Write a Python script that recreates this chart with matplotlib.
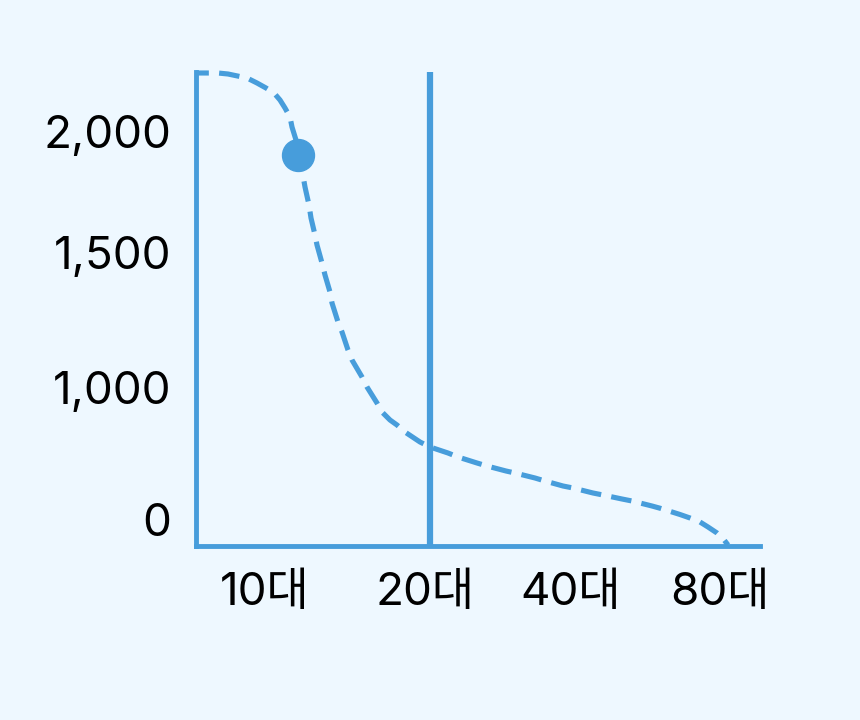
import matplotlib
matplotlib.use("Agg")
import matplotlib.pyplot as plt

# 값은 그림에서 읽은 것 (축 단위: 가로 0~564, 세로 0~474)
x_labels = ["10대", "20대", "40대", "80대"]
x_label_pos = [69, 229, 375, 524]

y_labels = ["0", "1,000", "1,500", "2,000"]
y_label_pos = [26, 159, 294, 414]

curve_x = [0, 22, 32, 51, 61, 70, 78, 84, 89, 94, 96, 100, 102, 106, 109,
           113, 115, 119, 121, 126, 129, 134, 136, 142, 146, 152, 156, 166,
           171, 181, 186, 194, 201, 209, 224, 234, 252, 262, 281, 291, 310,
           319, 339, 349, 367, 377, 397, 407, 426, 436, 456, 465, 484, 494,
           504, 512, 521, 527, 532]
curve_y = [473, 473, 472, 468, 463, 458, 453, 446, 438, 429, 419, 406, 391,
           376, 359, 341, 328, 311, 301, 283, 271, 254, 243, 224, 214, 196,
           186, 169, 159, 143, 134, 126, 121, 114, 104, 99, 93, 89, 83, 80,
           75, 73, 68, 65, 60, 58, 53, 51, 47, 45, 40, 37.5, 31.5, 28, 24,
           19, 13, 7.5, 1]

point_x = [102]
point_y = [391]

marker_line_x = 234

bg = "#eef8ff"
blue = "#479ddb"

plt.rcParams['font.family'] = ['Inter', 'Noto Sans CJK KR', 'DejaVu Sans']

fig = plt.figure(figsize=(8.6, 7.2), dpi=100, facecolor=bg)
ax = fig.add_axes([196 / 860, 174 / 720, 564 / 860, 474 / 720])
ax.set_facecolor(bg)

ax.plot(curve_x, curve_y, color=blue, lw=3.7, linestyle=(1.5, (4.0, 2.0)),
        solid_capstyle="butt", clip_on=False)
ax.axvline(marker_line_x, color=blue, lw=4.5)
ax.plot(point_x, point_y, "o", color=blue, markersize=23, clip_on=False)

ax.set_xlim(0, 564)
ax.set_ylim(0, 474)
ax.set_xticks(x_label_pos)
ax.set_xticklabels(x_labels)
ax.set_yticks(y_label_pos)
ax.set_yticklabels(y_labels)
ax.tick_params(length=0, labelsize=33, colors="black")
ax.tick_params(axis="y", pad=18)
ax.tick_params(axis="x", pad=19)

for side in ["top", "right"]:
    ax.spines[side].set_visible(False)
for side in ["left", "bottom"]:
    ax.spines[side].set_color(blue)
    ax.spines[side].set_linewidth(3.5)

fig.savefig("out.png", dpi=100, facecolor=bg)
